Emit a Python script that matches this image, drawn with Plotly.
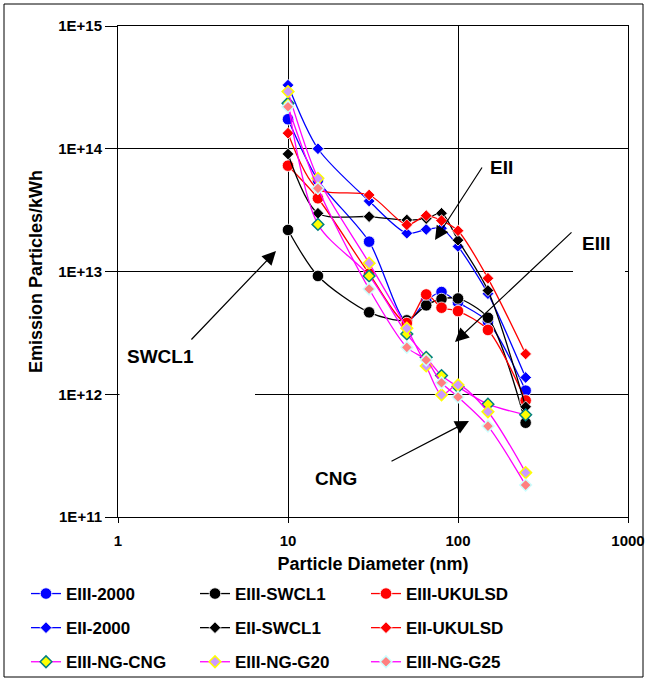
import plotly.graph_objects as go

# ---------------- data ----------------
diam_nm = [10, 15, 30, 50, 65, 80, 100, 150, 250]

eiii_2000   = [1.74e14, 5.56e13, 1.75e13, 3.9e12, 5.8e12, 6.8e12, 5.6e12, 3.9e12, 1.07e12]
eiii_swcl1  = [2.18e13, 9.2e12, 4.65e12, 4.0e12, 5.3e12, 5.97e12, 6.03e12, 4.2e12, 5.86e11]
eiii_ukulsd = [7.28e13, 3.95e13, 9.6e12, 3.8e12, 6.5e12, 5.07e12, 4.76e12, 3.34e12, 8.9e11]
eii_2000    = [3.3e14, 1.0e14, 3.75e13, 2.05e13, 2.2e13, 2.25e13, 1.6e13, 6.6e12, 1.37e12]
eii_swcl1   = [9.06e13, 2.98e13, 2.8e13, 2.63e13, 2.7e13, 2.98e13, 1.8e13, 7.0e12, 7.9e11]
eii_ukulsd  = [1.34e14, 4.7e13, 4.2e13, 2.4e13, 2.85e13, 2.6e13, 2.15e13, 8.8e12, 2.13e12]
ng_cng      = [2.35e14, 2.42e13, 9.2e12, 3.1e12, 2.0e12, 1.42e12, 1.15e12, 8.3e11, 6.8e11]
ng_g20      = [2.92e14, 5.74e13, 1.17e13, 3.45e12, 1.7e12, 9.9e11, 1.19e12, 7.2e11, 2.3e11]
ng_g25      = [2.2e14, 4.76e13, 7.2e12, 2.41e12, 1.9e12, 1.24e12, 9.5e11, 5.5e11, 1.82e11]

series_names = ["EIII-2000", "EIII-SWCL1", "EIII-UKULSD",
                "EII-2000", "EII-SWCL1", "EII-UKULSD",
                "EIII-NG-CNG", "EIII-NG-G20", "EIII-NG-G25"]
series_values = [eiii_2000, eiii_swcl1, eiii_ukulsd,
                 eii_2000, eii_swcl1, eii_ukulsd,
                 ng_cng, ng_g20, ng_g25]

x_tickvals = [1, 10, 100, 1000]
x_ticktext = ["1", "10", "100", "1000"]
y_tickvals = [1e11, 1e12, 1e13, 1e14, 1e15]
y_ticktext = ["1E+11", "1E+12", "1E+13", "1E+14", "1E+15"]

# ---------------- styles ----------------
styles = [
    dict(line="#0000FF", sym="circle", fill="#0000FF", edge="white", size=11.5, ew=0.8, legend="legend"),
    dict(line="#000000", sym="circle", fill="#000000", edge="white", size=11.5, ew=0.8, legend="legend2"),
    dict(line="#FF0000", sym="circle", fill="#FF0000", edge="white", size=11.5, ew=0.8, legend="legend3"),
    dict(line="#0000FF", sym="diamond", fill="#0000FF", edge="white", size=9, ew=0.8, legend="legend"),
    dict(line="#000000", sym="diamond", fill="#000000", edge="white", size=9, ew=0.8, legend="legend2"),
    dict(line="#FF0000", sym="diamond", fill="#FF0000", edge="white", size=9, ew=0.8, legend="legend3"),
    dict(line="#FF00FF", sym="diamond", fill="#FFFF00", edge="#008080", size=9, ew=1.5, legend="legend"),
    dict(line="#FF00FF", sym="diamond", fill="#CC99FF", edge="#FFFF00", size=9, ew=1.5, legend="legend2"),
    dict(line="#FF00FF", sym="diamond", fill="#FF8080", edge="#CCFFFF", size=9, ew=1.5, legend="legend3"),
]

FONT = "Liberation Sans, Arial, sans-serif"
WIDTH, HEIGHT = 647, 680
L, R, T, B = 118, 628, 26, 517
PW, PH = R - L, B - T


def px(xp):
    return (xp - L) / PW


def py(yp):
    return (B - yp) / PH


fig = go.Figure()
for name, vals, st in zip(series_names, series_values, styles):
    fig.add_trace(go.Scatter(
        x=diam_nm, y=vals, name=name, mode="lines+markers",
        line=dict(color=st["line"], width=1.3, shape="spline", smoothing=0.8),
        marker=dict(symbol=st["sym"], color=st["fill"], size=st["size"],
                    line=dict(color=st["edge"], width=st["ew"])),
        legend=st["legend"], legendgroup=name,
    ))

axis_common = dict(
    type="log", showgrid=True, gridcolor="black", gridwidth=1,
    showline=True, linecolor="black", linewidth=1, mirror=True,
    ticks="outside", tickcolor="black", zeroline=False, automargin=False,
    tickfont=dict(family=FONT, size=15, color="black", weight="bold"),
)

fig.update_xaxes(
    **axis_common, range=[0, 3], tickvals=x_tickvals, ticktext=x_ticktext, ticklen=5,
    ticklabelstandoff=5,
    title=dict(text="Particle Diameter (nm)", standoff=9,
               font=dict(family=FONT, size=18, color="black", weight="bold")),
)
fig.update_yaxes(
    **axis_common, range=[11, 15], tickvals=y_tickvals, ticktext=y_ticktext, ticklen=12,
    title=dict(text="Emission Particles/kWh", standoff=10,
               font=dict(family=FONT, size=18, color="black", weight="bold")),
)

legend_common = dict(
    orientation="v", xanchor="left", yanchor="top", bgcolor="rgba(0,0,0,0)",
    font=dict(family=FONT, size=17, color="black", weight="bold"),
    tracegroupgap=9, itemwidth=30,
)
fig.update_layout(
    width=WIDTH, height=HEIGHT,
    margin=dict(l=L, r=WIDTH - R, t=T, b=HEIGHT - B, pad=0, autoexpand=False),
    paper_bgcolor="white", plot_bgcolor="white",
    font=dict(family=FONT, color="black"),
    legend=dict(**legend_common, x=px(26), y=py(576)),
    legend2=dict(**legend_common, x=px(195), y=py(576)),
    legend3=dict(**legend_common, x=px(366), y=py(576)),
    showlegend=True,
)

# outer chart border and white label boxes
fig.add_shape(type="rect", xref="paper", yref="paper",
              x0=px(4), x1=px(643), y0=py(677), y1=py(4),
              line=dict(color="black", width=1), fillcolor="rgba(0,0,0,0)", layer="above")
fig.add_shape(type="rect", xref="paper", yref="paper",
              x0=px(119.5), x1=px(255), y0=py(400), y1=py(388),
              line=dict(width=0), fillcolor="white", layer="above")
fig.add_shape(type="rect", xref="paper", yref="paper",
              x0=px(573), x1=px(625), y0=py(278), y1=py(266),
              line=dict(width=0), fillcolor="white", layer="above")

# arrows
arrows = [((276, 251), (190, 341)),   # SWCL1
          ((435, 240), (483, 166)),   # EII
          ((455, 342), (573, 231)),   # EIII
          ((469, 421), (390, 462))]   # CNG
for (hx, hy), (tx, ty) in arrows:
    fig.add_annotation(x=px(hx), y=py(hy), xref="paper", yref="paper",
                       ax=tx - hx, ay=ty - hy, axref="pixel", ayref="pixel",
                       text="", showarrow=True, arrowhead=2, arrowsize=2.3,
                       arrowwidth=1.2, arrowcolor="black", standoff=0, startstandoff=0)

labels = [("SWCL1", 160, 357), ("EII", 501, 167), ("EIII", 596, 243), ("CNG", 336, 478)]
for txt, cx, cy in labels:
    fig.add_annotation(x=px(cx), y=py(cy), xref="paper", yref="paper", text=txt,
                       showarrow=False, xanchor="center", yanchor="middle",
                       font=dict(family=FONT, size=19, color="black", weight="bold"))

fig.write_html("out.html")
